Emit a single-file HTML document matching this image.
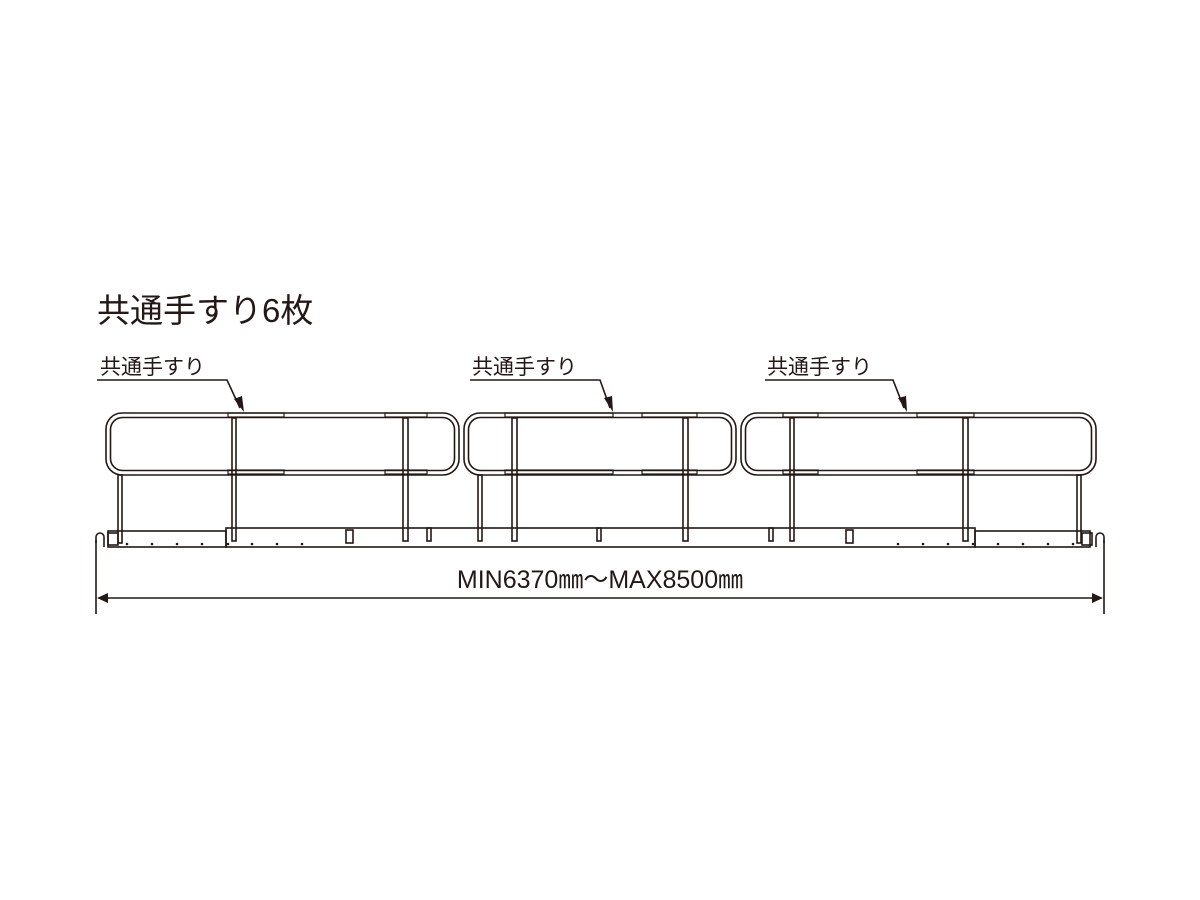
<!DOCTYPE html>
<html><head><meta charset="utf-8"><style>
html,body{margin:0;padding:0;background:#fff;}
svg{display:block}
text{font-family:"Liberation Sans","Noto Sans CJK JP",sans-serif;fill:#231815}
</style></head><body>
<svg width="1200" height="900" viewBox="0 0 1200 900" xmlns="http://www.w3.org/2000/svg">
<g fill="none" stroke="#231815" stroke-width="1.6">
<rect x="106" y="413" width="353" height="62" rx="16"/>
<rect x="110.5" y="417.5" width="344" height="53" rx="12"/>
<rect x="464" y="413" width="272" height="62" rx="16"/>
<rect x="468.5" y="417.5" width="263" height="53" rx="12"/>
<rect x="741" y="413" width="355" height="62" rx="16"/>
<rect x="745.5" y="417.5" width="346" height="53" rx="12"/>
<g>
<rect x="118" y="475" width="4" height="68"/>
<rect x="232" y="418" width="4" height="123"/>
<rect x="403" y="418" width="5" height="123"/>
<rect x="478" y="475" width="4" height="66"/>
<rect x="512" y="418" width="5" height="123"/>
<rect x="683" y="418" width="5" height="123"/>
<rect x="790" y="418" width="4" height="123"/>
<rect x="963" y="418" width="5" height="123"/>
<rect x="1077" y="475" width="4" height="68"/>
<rect x="427" y="528" width="4" height="13"/>
<rect x="597" y="528" width="4" height="13"/>
<rect x="769" y="528" width="4" height="13"/>
</g>
<rect x="108" y="531" width="118" height="16"/>
<rect x="226" y="528" width="749" height="19"/>
<rect x="975" y="531" width="115" height="16"/>
<rect x="346" y="530" width="7" height="13"/>
<rect x="846" y="530" width="7" height="13"/>
<path d="M104 547 v-10 a4 4 0 0 0 -8 0 v6" />
<rect x="108" y="533" width="10" height="12"/>
<rect x="1082" y="533" width="10" height="12"/>
<path d="M1096 547 v-10 a4 4 0 0 1 8 0 v6" />
<line x1="96" y1="540" x2="96" y2="614"/>
<line x1="1104" y1="540" x2="1104" y2="614"/>
<line x1="100" y1="598" x2="1100" y2="598"/>
<polyline points="97,380 227,380 240,408"/>
<polyline points="470,380 600,380 610,408"/>
<polyline points="765,380 893,380 904,408"/>
</g>
<g fill="none" stroke="#231815" stroke-width="1.2">
<rect x="228" y="413" width="56" height="4"/><rect x="228" y="470" width="56" height="4"/>
<rect x="385" y="413" width="42" height="4"/><rect x="385" y="470" width="42" height="4"/>
<rect x="505" y="413" width="108" height="4"/><rect x="505" y="470" width="108" height="4"/>
<rect x="642" y="413" width="55" height="4"/><rect x="642" y="470" width="55" height="4"/>
<rect x="783" y="413" width="35" height="4"/><rect x="783" y="470" width="35" height="4"/>
<rect x="917" y="413" width="57" height="4"/><rect x="917" y="470" width="57" height="4"/>
</g>
<g fill="#231815">
<polygon points="97,598 108,593 108,603"/>
<polygon points="1103,598 1092,593 1092,603"/>
<polygon points="244,412 234,399 242,396"/>
<polygon points="613,412 604,398 612,396"/>
<polygon points="907,412 898,398 906,396"/>
<g>
<circle cx="127" cy="544" r="1.3"/><circle cx="152" cy="544" r="1.3"/><circle cx="177" cy="544" r="1.3"/><circle cx="202" cy="544" r="1.3"/>
<circle cx="228" cy="544" r="1.3"/><circle cx="252" cy="544" r="1.3"/><circle cx="277" cy="544" r="1.3"/><circle cx="302" cy="544" r="1.3"/>
<circle cx="898" cy="544" r="1.3"/><circle cx="923" cy="544" r="1.3"/><circle cx="948" cy="544" r="1.3"/><circle cx="973" cy="544" r="1.3"/>
<circle cx="998" cy="544" r="1.3"/><circle cx="1023" cy="544" r="1.3"/><circle cx="1048" cy="544" r="1.3"/><circle cx="1073" cy="544" r="1.3"/>
</g>
</g>
<text x="97" y="322" font-size="33">共通手すり6枚</text>
<text x="100" y="374" font-size="21">共通手すり</text>
<text x="472" y="374" font-size="21">共通手すり</text>
<text x="767" y="374" font-size="21">共通手すり</text>
<text x="600" y="588" font-size="25" text-anchor="middle">MIN6370㎜～MAX8500㎜</text>
</svg>
</body></html>
